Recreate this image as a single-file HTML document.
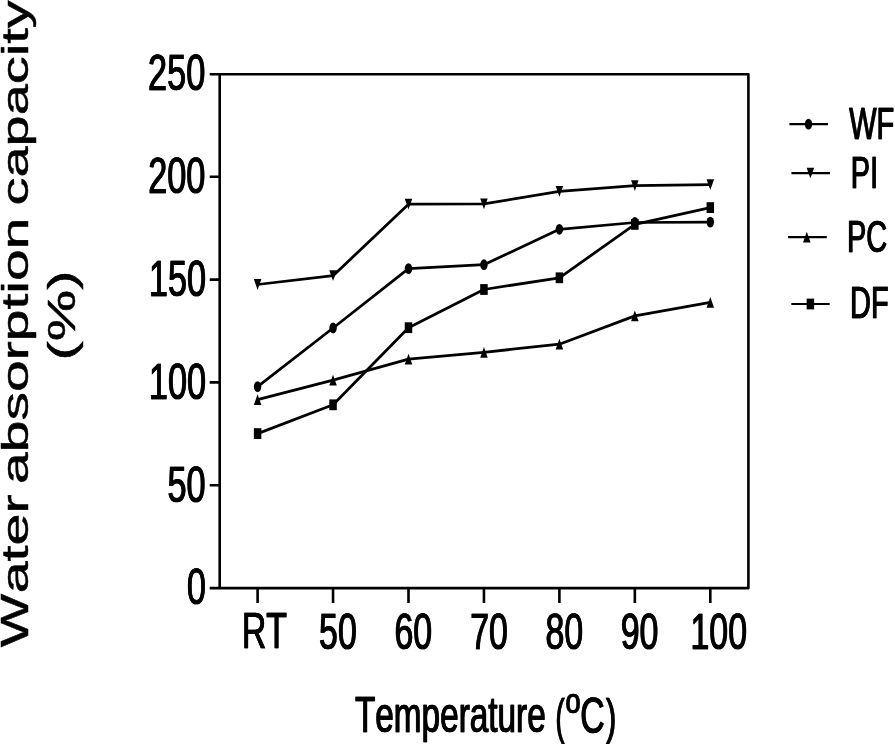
<!DOCTYPE html>
<html><head><meta charset="utf-8"><style>
html,body{margin:0;padding:0;background:#fff;overflow:hidden;}
svg{display:block;filter:grayscale(1);}
text{font-family:"Liberation Sans",sans-serif;fill:#000;stroke:#000;stroke-width:0.7px;font-kerning:none;font-feature-settings:"kern" 0;}
</style></head><body>
<svg width="895" height="744" viewBox="0 0 895 744">
<rect width="895" height="744" fill="#fff"/>
<path d="M209.7,74.3H748.4V588.1H209.7M219.7,74.3V588.1" fill="none" stroke="#000" stroke-width="2.6" stroke-linejoin="round"/>
<path d="M209.7,176.8H219.7 M209.7,279.6H219.7 M209.7,382.4H219.7 M209.7,485.2H219.7 M257.60,588.1V603 M333.05,588.1V603 M408.50,588.1V603 M483.95,588.1V603 M559.40,588.1V603 M634.85,588.1V603 M710.30,588.1V603" fill="none" stroke="#000" stroke-width="2.6"/>
<text transform="translate(147.85,90.24) scale(0.6819,1)" font-size="50.23">250</text><text transform="translate(148.30,90.24) scale(0.6819,1)" font-size="50.23">250</text>
<text transform="translate(147.98,192.92) scale(0.6819,1)" font-size="50.23">200</text><text transform="translate(148.43,192.92) scale(0.6819,1)" font-size="50.23">200</text>
<text transform="translate(148.64,296.42) scale(0.6819,1)" font-size="50.23">150</text><text transform="translate(149.09,296.42) scale(0.6819,1)" font-size="50.23">150</text>
<text transform="translate(148.65,399.04) scale(0.6819,1)" font-size="50.23">100</text><text transform="translate(149.10,399.04) scale(0.6819,1)" font-size="50.23">100</text>
<text transform="translate(167.32,501.93) scale(0.6819,1)" font-size="50.23">50</text><text transform="translate(167.77,501.93) scale(0.6819,1)" font-size="50.23">50</text>
<text transform="translate(186.64,604.15) scale(0.6819,1)" font-size="50.23">0</text><text transform="translate(187.09,604.15) scale(0.6819,1)" font-size="50.23">0</text>
<text transform="translate(241.63,648.37) scale(0.6678,1)" font-size="50.75">RT</text><text transform="translate(242.08,648.37) scale(0.6678,1)" font-size="50.75">RT</text>
<text transform="translate(318.84,649.03) scale(0.6678,1)" font-size="50.75">50</text><text transform="translate(319.29,649.03) scale(0.6678,1)" font-size="50.75">50</text>
<text transform="translate(394.27,648.97) scale(0.6678,1)" font-size="50.75">60</text><text transform="translate(394.72,648.97) scale(0.6678,1)" font-size="50.75">60</text>
<text transform="translate(470.00,649.04) scale(0.6678,1)" font-size="50.75">70</text><text transform="translate(470.45,649.04) scale(0.6678,1)" font-size="50.75">70</text>
<text transform="translate(545.33,648.93) scale(0.6678,1)" font-size="50.75">80</text><text transform="translate(545.78,648.93) scale(0.6678,1)" font-size="50.75">80</text>
<text transform="translate(620.53,649.03) scale(0.6678,1)" font-size="50.75">90</text><text transform="translate(620.98,649.03) scale(0.6678,1)" font-size="50.75">90</text>
<text transform="translate(690.28,649.04) scale(0.6678,1)" font-size="50.75">100</text><text transform="translate(690.73,649.04) scale(0.6678,1)" font-size="50.75">100</text>
<text transform="translate(848.97,138.70) scale(0.6583,1)" font-size="43.93">WF</text><text transform="translate(849.42,138.70) scale(0.6583,1)" font-size="43.93">WF</text>
<text transform="translate(850.62,187.51) scale(0.6583,1)" font-size="43.93">PI</text><text transform="translate(851.07,187.51) scale(0.6583,1)" font-size="43.93">PI</text>
<text transform="translate(846.76,251.57) scale(0.6583,1)" font-size="43.93">PC</text><text transform="translate(847.21,251.57) scale(0.6583,1)" font-size="43.93">PC</text>
<text transform="translate(849.84,317.71) scale(0.6583,1)" font-size="43.93">DF</text><text transform="translate(850.29,317.71) scale(0.6583,1)" font-size="43.93">DF</text>
<text transform="translate(354.69,731.82) scale(0.6787,1)" font-size="49.12">Temperature</text><text transform="translate(355.14,731.82) scale(0.6787,1)" font-size="49.12">Temperature</text>
<text transform="translate(555.22,733.61) scale(0.5451,1)" font-size="49.95">(</text><text transform="translate(555.67,733.61) scale(0.5451,1)" font-size="49.95">(</text>
<text transform="translate(565.21,712.97) scale(0.7739,1)" font-size="35.09">o</text><text transform="translate(565.66,712.97) scale(0.7739,1)" font-size="35.09">o</text>
<text transform="translate(580.04,733.49) scale(0.6688,1)" font-size="50.48">C</text><text transform="translate(580.49,733.49) scale(0.6688,1)" font-size="50.48">C</text>
<text transform="translate(605.87,733.61) scale(0.6180,1)" font-size="49.95">)</text><text transform="translate(606.32,733.61) scale(0.6180,1)" font-size="49.95">)</text>
<polyline points="257.6,284.5 333.1,275.7 408.5,204.2 483.9,203.9 559.4,191.4 634.9,185.6 710.3,184.6" fill="none" stroke="#000" stroke-width="2.75" stroke-linejoin="round"/>
<polyline points="257.6,386.6 333.1,328.0 408.5,268.6 483.9,264.7 559.4,229.3 634.9,222.5 710.3,222.1" fill="none" stroke="#000" stroke-width="2.75" stroke-linejoin="round"/>
<polyline points="257.6,399.6 333.1,380.1 408.5,359.1 483.9,352.3 559.4,344.2 634.9,315.9 710.3,302.4" fill="none" stroke="#000" stroke-width="2.75" stroke-linejoin="round"/>
<polyline points="257.6,433.6 333.1,404.8 408.5,327.7 483.9,289.5 559.4,277.8 634.9,224.4 710.3,207.6" fill="none" stroke="#000" stroke-width="2.75" stroke-linejoin="round"/>
<path d="M253.85,279.10H261.35L257.60,289.90Z"/>
<path d="M329.30,270.30H336.80L333.05,281.10Z"/>
<path d="M404.75,198.80H412.25L408.50,209.60Z"/>
<path d="M480.20,198.50H487.70L483.95,209.30Z"/>
<path d="M555.65,186.00H563.15L559.40,196.80Z"/>
<path d="M631.10,180.20H638.60L634.85,191.00Z"/>
<path d="M706.55,179.20H714.05L710.30,190.00Z"/>
<ellipse cx="257.60" cy="386.60" rx="3.75" ry="5.40"/>
<ellipse cx="333.05" cy="328.00" rx="3.75" ry="5.40"/>
<ellipse cx="408.50" cy="268.60" rx="3.75" ry="5.40"/>
<ellipse cx="483.95" cy="264.70" rx="3.75" ry="5.40"/>
<ellipse cx="559.40" cy="229.30" rx="3.75" ry="5.40"/>
<ellipse cx="634.85" cy="222.50" rx="3.75" ry="5.40"/>
<ellipse cx="710.30" cy="222.10" rx="3.75" ry="5.40"/>
<path d="M253.85,405.00H261.35L257.60,394.20Z"/>
<path d="M329.30,385.50H336.80L333.05,374.70Z"/>
<path d="M404.75,364.50H412.25L408.50,353.70Z"/>
<path d="M480.20,357.70H487.70L483.95,346.90Z"/>
<path d="M555.65,349.60H563.15L559.40,338.80Z"/>
<path d="M631.10,321.30H638.60L634.85,310.50Z"/>
<path d="M706.55,307.80H714.05L710.30,297.00Z"/>
<rect x="253.85" y="428.20" width="7.50" height="10.80"/>
<rect x="329.30" y="399.40" width="7.50" height="10.80"/>
<rect x="404.75" y="322.30" width="7.50" height="10.80"/>
<rect x="480.20" y="284.10" width="7.50" height="10.80"/>
<rect x="555.65" y="272.40" width="7.50" height="10.80"/>
<rect x="631.10" y="219.00" width="7.50" height="10.80"/>
<rect x="706.55" y="202.20" width="7.50" height="10.80"/>
<path d="M789.4,124.2H828.0" stroke="#000" stroke-width="2.2"/>
<ellipse cx="808.50" cy="124.20" rx="3.75" ry="5.40"/>
<path d="M791.4,173.2H830.0" stroke="#000" stroke-width="2.2"/>
<path d="M806.65,167.80H814.15L810.40,178.60Z"/>
<path d="M788.1,237.1H826.8" stroke="#000" stroke-width="2.2"/>
<path d="M803.05,242.50H810.55L806.80,231.70Z"/>
<path d="M791.3,304.0H829.7" stroke="#000" stroke-width="2.2"/>
<rect x="806.65" y="298.60" width="7.50" height="10.80"/>
<text transform="translate(28.1,647.30) rotate(-90) scale(1,0.6979)" font-size="56.6">W</text>
<text transform="translate(28.1,593.32) rotate(-90) scale(1,0.6530)" font-size="57.4">ater</text>
<text transform="translate(28.1,483.90) rotate(-90) scale(1,0.6570)" font-size="57.05">absorption</text>
<text transform="translate(28.1,205.50) rotate(-90) scale(1,0.6701)" font-size="55.93">capacity</text>
<text transform="translate(75.2,315.5) rotate(-90) scale(1,0.657)" font-size="57.9" text-anchor="middle">(%)</text>
</svg>
</body></html>
